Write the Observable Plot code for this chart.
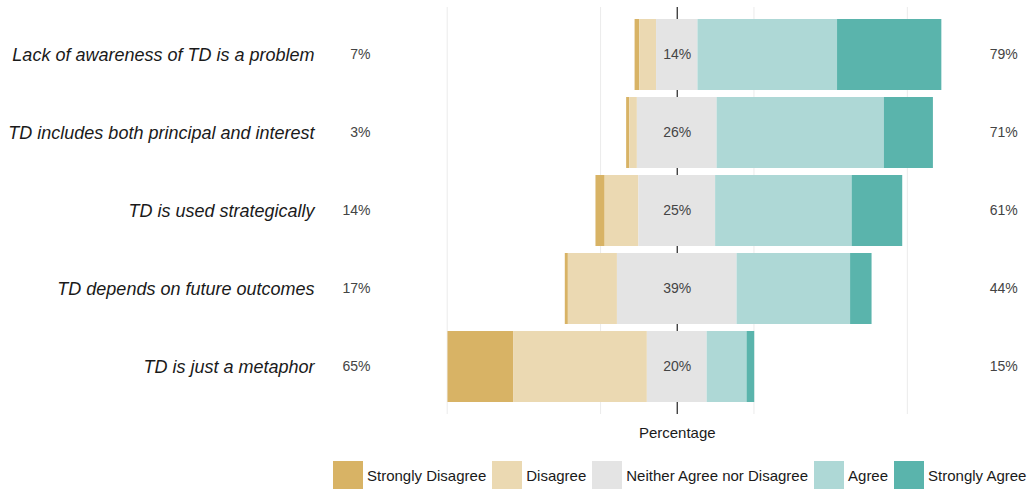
<!DOCTYPE html>
<html>
<head>
<meta charset="utf-8">
<script src="https://cdn.jsdelivr.net/npm/d3@7"></script>
<script src="https://cdn.jsdelivr.net/npm/@observablehq/plot@0.6"></script>
<style>
  body { margin: 0; background: #fff; font-family: "Liberation Sans", Arial, sans-serif; }
  #legend { display: flex; align-items: center; margin-left: 333px; margin-top: 13px; font-size: 15px; color: #1a1a1a; white-space: nowrap; }
  #legend .sw { width: 30px; height: 29px; margin-right: 4px; flex-shrink: 0; }
  #legend .lab { margin-right: 6px; flex-shrink: 0; }
</style>
</head>
<body>
<div id="chart"></div>
<div id="legend"></div>
<script>
const items = [
  "Lack of awareness of TD is a problem",
  "TD includes both principal and interest",
  "TD is used strategically",
  "TD depends on future outcomes",
  "TD is just a metaphor"
];
const levels = ["Strongly Disagree", "Disagree", "Neither Agree nor Disagree", "Agree", "Strongly Agree"];
const colors = ["#d8b365", "#ebd9b2", "#e4e4e4", "#aed8d6", "#5ab4ac"];

const stronglyDisagree = [1.5, 1, 3, 1, 21.5];
const disagree         = [5.5, 2.5, 11, 16, 43.5];
const neutral          = [13.5, 26, 25, 39, 19.5];
const agree            = [45.5, 54.5, 44.5, 37, 13];
const stronglyAgree    = [34, 16, 16.5, 7, 2.5];

const lowLabels     = ["7%", "3%", "14%", "17%", "65%"];
const neutralLabels = ["14%", "26%", "25%", "39%", "20%"];
const highLabels    = ["79%", "71%", "61%", "44%", "15%"];

const gridBreaks = [-75, -25, 25, 75];

// build segments: neutral centered on 0
const segs = [];
items.forEach((item, i) => {
  const n = neutral[i];
  const dEnd = -n / 2 - disagree[i];
  segs.push({item, level: levels[0], x1: dEnd - stronglyDisagree[i], x2: dEnd});
  segs.push({item, level: levels[1], x1: dEnd, x2: -n / 2});
  segs.push({item, level: levels[2], x1: -n / 2, x2: n / 2});
  segs.push({item, level: levels[3], x1: n / 2, x2: n / 2 + agree[i]});
  segs.push({item, level: levels[4], x1: n / 2 + agree[i], x2: n / 2 + agree[i] + stronglyAgree[i]});
});
const labelRows = items.map((item, i) => ({item, low: lowLabels[i], mid: neutralLabels[i], high: highLabels[i]}));

const chart = Plot.plot({
  width: 1028,
  height: 448,
  marginTop: 7,
  marginBottom: 34,
  marginLeft: 320,
  marginRight: 0,
  style: {fontFamily: "Liberation Sans, Arial, sans-serif", background: "#fff"},
  x: {domain: [-116.3, 114.5], axis: null},
  y: {domain: items, paddingInner: 0.09, paddingOuter: 0.15, label: null},
  color: {domain: levels, range: colors},
  marks: [
    Plot.ruleX(gridBreaks, {stroke: "#ebebeb", strokeWidth: 1}),
    Plot.ruleX([0], {stroke: "#333", strokeWidth: 1.3}),
    Plot.barX(segs, {y: "item", x1: "x1", x2: "x2", fill: "level"}),
    Plot.text(labelRows, {y: "item", x: () => 0, text: "mid", fontSize: 14, fill: "#444"}),
    Plot.text(labelRows, {y: "item", x: () => -100, text: "low", fontSize: 14, fill: "#444", textAnchor: "end"}),
    Plot.text(labelRows, {y: "item", x: () => 111, text: "high", fontSize: 14, fill: "#444", textAnchor: "end"}),
    Plot.axisY({tickSize: 0, tickPadding: 6, fontSize: 18, fontStyle: "italic", fill: "#1a1a1a", label: null}),
    Plot.text(["Percentage"], {x: () => 0, frameAnchor: "bottom", lineAnchor: "middle", dy: 19, fontSize: 15, fill: "#1a1a1a"})
  ]
});
document.getElementById("chart").appendChild(chart);

const legend = document.getElementById("legend");
levels.forEach((lv, i) => {
  const sw = document.createElement("div");
  sw.className = "sw";
  sw.style.background = colors[i];
  const lab = document.createElement("span");
  lab.className = "lab";
  lab.textContent = lv;
  legend.appendChild(sw);
  legend.appendChild(lab);
});
</script>
</body>
</html>
